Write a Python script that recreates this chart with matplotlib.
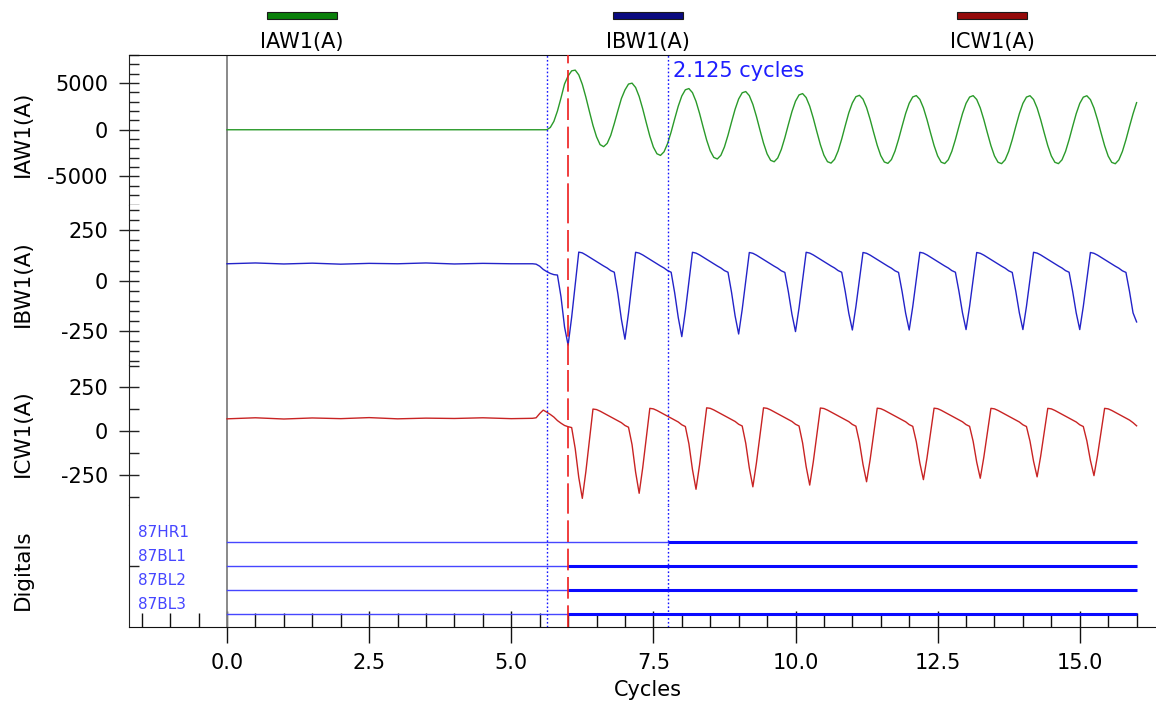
import numpy as np
import matplotlib
matplotlib.use("Agg")
import matplotlib.pyplot as plt
from matplotlib.patches import Rectangle
from matplotlib.ticker import MultipleLocator, FixedLocator, FormatStrFormatter, NullLocator

plt.rcParams['font.family'] = ['DejaVu Sans']

W, H = 1156, 704
SAMPLES_PER_CYCLE = 16

# ---- analog channels -------------------------------------------------------
channel_names = ["IAW1(A)", "IBW1(A)", "ICW1(A)"]

# pre-fault record, one sample every half cycle
pre_time = [0.0, 0.5, 1.0, 1.5, 2.0, 2.5, 3.0, 3.5, 4.0, 4.5, 5.0]
iaw_pre = [0, 0, 0, 0, 0, 0, 0, 0, 0, 0, 0]
ibw_pre = [84, 88, 83, 87, 82, 86, 84, 88, 83, 86, 84]
icw_pre = [70, 76, 69, 75, 71, 77, 70, 74, 72, 76, 71]

# fault record, 16 samples per cycle starting at 5.375 cycles
fault_start = 5.375

iaw_fault = [
    0, 0, 0, 0, 0, 250, 900, 2000, 3400, 4900,
    5750, 6300, 6380, 5870, 4857, 3488, 1952, 468, -753, -1590, -1810, -1460, -600, 662, 2028, 3342,
    4253, 4887, 4985, 4521, 3557, 2238, 752, -682, -1853, -2567, -2745, -2361, -1477, -238, 1168, 2522,
    3613, 4277, 4405, 3971, 3037, 1748, 292, -1112, -2253, -2957, -3125, -2731, -1837, -588, 828, 2192,
    3293, 3957, 4085, 3651, 2717, 1428, -28, -1432, -2573, -3267, -3425, -3021, -2117, -858, 568, 1942,
    3053, 3728, 3867, 3444, 2522, 1244, -201, -1593, -2723, -3415, -3570, -3163, -2257, -996, 433, 1810,
    2864, 3538, 3683, 3274, 2371, 1118, -299, -1665, -2772, -3448, -3595, -3188, -2287, -1036, 379, 1744,
    2834, 3509, 3655, 3247, 2345, 1093, -323, -1688, -2794, -3469, -3615, -3207, -2305, -1053, 363, 1728,
    2824, 3499, 3645, 3237, 2335, 1083, -333, -1698, -2804, -3479, -3625, -3217, -2315, -1063, 353, 1718,
    2820, 3495, 3640, 3235, 2330, 1080, -335, -1700, -2805, -3480, -3625, -3220, -2318, -1065, 350, 1715,
    2814, 3489, 3635, 3227, 2325, 1073, -343, -1708, -2814, -3489, -3635, -3227, -2325, -1073, 343, 1708,
    2900,
]

ibw_fault = [
    84, 82, 72, 56, 45, 36, 30, 28, -80, -230,
    -320, -182, -20, 142, 138, 128, 117, 106, 95, 84, 73, 63, 50, 42, -64, -192,
    -291, -161, -10, 141, 137, 128, 117, 106, 95, 84, 73, 63, 50, 42, -61, -183,
    -278, -152, -6, 141, 137, 128, 117, 106, 95, 84, 73, 63, 50, 42, -58, -175,
    -265, -143, 0, 140, 136, 127, 116, 105, 94, 83, 72, 62, 49, 41, -56, -167,
    -253, -135, 3, 141, 137, 128, 117, 106, 95, 84, 73, 63, 50, 42, -54, -162,
    -245, -129, 6, 140, 136, 127, 116, 105, 94, 83, 72, 62, 49, 41, -54, -162,
    -245, -129, 6, 141, 137, 128, 117, 106, 95, 84, 73, 63, 50, 42, -53, -160,
    -243, -128, 7, 140, 136, 127, 116, 105, 94, 83, 72, 62, 49, 41, -53, -160,
    -243, -128, 7, 141, 137, 128, 117, 106, 95, 84, 73, 63, 50, 42, -53, -160,
    -243, -128, 7, 140, 136, 127, 116, 105, 94, 83, 72, 62, 49, 41, -53, -160,
    -205,
]

icw_fault = [
    73, 76, 100, 120, 108, 95, 80, 60, 45, 32, 25, 20, -100, -265,
    -385, -232, -53, 126, 123, 114, 103, 92, 81, 70, 59, 48, 32, 22, -78, -235,
    -356, -210, -40, 130, 127, 118, 107, 96, 85, 74, 63, 52, 36, 26, -73, -220,
    -333, -193, -30, 133, 130, 121, 110, 99, 88, 77, 66, 55, 39, 29, -70, -211,
    -319, -183, -25, 133, 130, 121, 110, 99, 88, 77, 66, 55, 39, 29, -68, -204,
    -309, -177, -22, 132, 129, 120, 109, 98, 87, 76, 65, 54, 38, 28, -64, -191,
    -290, -164, -16, 131, 128, 119, 108, 97, 86, 75, 64, 53, 37, 27, -61, -183,
    -278, -155, -12, 131, 128, 119, 108, 97, 86, 75, 64, 53, 37, 27, -59, -178,
    -270, -150, -10, 130, 127, 118, 107, 96, 85, 74, 63, 52, 36, 26, -58, -173,
    -262, -144, -7, 130, 127, 118, 107, 96, 85, 74, 63, 52, 36, 26, -56, -168,
    -255, -140, -5, 130, 127, 118, 107, 96, 85, 74, 63, 48, 30,
]

# ---- digital channels ------------------------------------------------------
digital_names = ["87HR1", "87BL1", "87BL2", "87BL3"]
digital_pickup = [7.75, 6.0, 6.0, 6.0]
record_end = 16.0

# ---- cursors ---------------------------------------------------------------
cursor_a = 5.625
cursor_b = 7.75
trigger = 6.0

# ---- styling ---------------------------------------------------------------
trace_colors = ["#2a9a2a", "#2323c8", "#c82323"]
legend_colors = ["#0b800b", "#0b0b80", "#950b0b"]
digital_color = "#4646ff"
FS = 15

px_per_cycle = 56.85
x0_px = 227
left_px = 129
xlim = ((left_px - x0_px) / px_per_cycle, (W - x0_px) / px_per_cycle)

fig = plt.figure(figsize=(W / 100, H / 100), dpi=100)
fig.patch.set_facecolor("white")


def panel(top_px, bottom_px, share=None):
    return fig.add_axes([left_px / W, 1 - bottom_px / H, 1 - left_px / W,
                         (bottom_px - top_px) / H], sharex=share)


ax_a = panel(54.5, 205)
ax_b = panel(205, 365, ax_a)
ax_c = panel(365, 505, ax_a)
ax_d = panel(505, 627, ax_a)
axes = [ax_a, ax_b, ax_c, ax_d]

ax_a.set_ylim(-8050, 8050)
ax_b.set_ylim(-419, 376)
ax_c.set_ylim(-423, 378)
ax_d.set_ylim(-0.54, 4.54)
ax_a.set_xlim(*xlim)

analog = [(ax_a, iaw_pre, iaw_fault, 5000, 1000),
          (ax_b, ibw_pre, ibw_fault, 250, 50),
          (ax_c, icw_pre, icw_fault, 250, 125)]

for (ax, pre, flt, major, minor), color in zip(analog, trace_colors):
    t = np.concatenate([pre_time, fault_start + np.arange(len(flt)) / SAMPLES_PER_CYCLE])
    v = np.concatenate([pre, flt])
    ax.plot(t, v, color=color, lw=1.0, zorder=3)
    ax.yaxis.set_major_locator(MultipleLocator(major))
    ax.yaxis.set_minor_locator(MultipleLocator(minor))
    ax.yaxis.set_major_formatter(FormatStrFormatter('%d'))

# digital traces
for i, (name, pick) in enumerate(zip(digital_names, digital_pickup)):
    y = len(digital_names) - 1 - i
    ax_d.plot([0, pick], [y, y], color=digital_color, lw=1.0, zorder=3)
    ax_d.plot([pick, record_end], [y, y], color="#0a0aff", lw=2.2,
              solid_capstyle='butt', zorder=3)
    ax_d.text(-1.567, y + 0.21, name, fontsize=11, color=digital_color,
              ha='left', va='baseline')
ax_d.yaxis.set_major_locator(NullLocator())
ax_d.yaxis.set_minor_locator(FixedLocator([2]))

for ax in axes:
    for side in ('right', 'top', 'bottom'):
        ax.spines[side].set_visible(False)
    ax.spines['left'].set_color('#222222')
    ax.tick_params(axis='y', which='major', direction='inout', length=14.4,
                   width=1, color='#222222', labelsize=FS, pad=8)
    ax.tick_params(axis='y', which='minor', direction='in', length=7,
                   width=1, color='#222222')
    ax.axvline(0, color='#808080', lw=1.3, zorder=2)
    ax.axvline(cursor_a, color='#1515ff', lw=1.0, ls=(0, (1.2, 1.6)), zorder=4)
    ax.axvline(cursor_b, color='#1515ff', lw=1.0, ls=(0, (1.2, 1.6)), zorder=4)
    ax.axvline(trigger, color='#ee1c1c', lw=1.2, ls=(0, (13, 4)), zorder=4)
    if ax is not ax_d:
        ax.tick_params(axis='x', which='both', bottom=False, labelbottom=False)

ax_a.spines['top'].set_visible(True)
ax_a.spines['top'].set_color('#111111')
ax_d.spines['bottom'].set_visible(True)
ax_d.spines['bottom'].set_color('#111111')
ax_d.xaxis.set_major_locator(MultipleLocator(2.5))
ax_d.xaxis.set_minor_locator(MultipleLocator(0.5))
ax_d.xaxis.set_major_formatter(FormatStrFormatter('%.1f'))
ax_d.tick_params(axis='x', which='major', direction='inout', length=23,
                 width=1, color='#111111', labelsize=FS, pad=7)
ax_d.tick_params(axis='x', which='minor', direction='in', length=10,
                 width=1, color='#111111')

# cursor difference readout
ax_a.text(cursor_b + 0.1, 5675, f"{cursor_b - cursor_a:.3f} cycles",
          fontsize=FS, color='#1e1eff', ha='left', va='baseline')

# channel labels
label_y = [134, 284, 433, 570]
for txt, py in zip(channel_names + ["Digitals"], label_y):
    fig.text(23 / W, 1 - py / H, txt, rotation=90, fontsize=15.5,
             ha='center', va='center')

fig.text(648 / W, 1 - 690 / H, "Cycles", fontsize=FS, ha='center', va='center')

# legend across the top
legend_cx = [302, 648, 992]
for name, col, cx in zip(channel_names, legend_colors, legend_cx):
    fig.add_artist(Rectangle(((cx - 35) / W, 1 - 19 / H), 70 / W, 7 / H,
                             transform=fig.transFigure, facecolor=col,
                             edgecolor='#1a1a1a', lw=0.8))
    fig.text(cx / W, 1 - 42 / H, name, fontsize=FS, ha='center', va='center')

fig.savefig("out.png", dpi=100, facecolor="white")
